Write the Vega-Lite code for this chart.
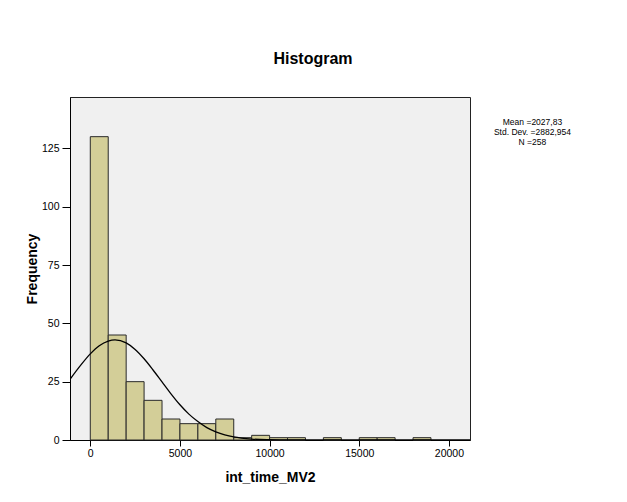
{
  "$schema": "https://vega.github.io/schema/vega-lite/v6.json",
  "width": 400,
  "height": 343,
  "autosize": "none",
  "padding": {"left": 70, "top": 97, "right": 157, "bottom": 62},
  "background": "white",
  "title": {"text": "Histogram", "anchor": "middle", "dx": 43, "offset": 30, "fontSize": 16, "fontWeight": "bold", "font": "Liberation Sans", "color": "black"},
  "config": {
    "view": {"fill": "#F0F0F0", "stroke": "#222222", "strokeWidth": 1},
    "axis": {"grid": false, "domainColor": "black", "tickColor": "black", "labelFont": "Liberation Sans", "labelFontSize": 10.5, "labelColor": "black", "titleFont": "Liberation Sans", "titleFontSize": 14, "titleFontWeight": "bold", "titleColor": "black", "tickSize": 6, "labelPadding": 2}
  },
  "datasets": {
    "bins": [
      {"bin_start": 0, "bin_end": 1000, "count": 130},
      {"bin_start": 1000, "bin_end": 2000, "count": 45},
      {"bin_start": 2000, "bin_end": 3000, "count": 25},
      {"bin_start": 3000, "bin_end": 4000, "count": 17},
      {"bin_start": 4000, "bin_end": 5000, "count": 9},
      {"bin_start": 5000, "bin_end": 6000, "count": 7},
      {"bin_start": 6000, "bin_end": 7000, "count": 7},
      {"bin_start": 7000, "bin_end": 8000, "count": 9},
      {"bin_start": 8000, "bin_end": 9000, "count": 1},
      {"bin_start": 9000, "bin_end": 10000, "count": 2},
      {"bin_start": 10000, "bin_end": 11000, "count": 1},
      {"bin_start": 11000, "bin_end": 12000, "count": 1},
      {"bin_start": 13000, "bin_end": 14000, "count": 1},
      {"bin_start": 15000, "bin_end": 16000, "count": 1},
      {"bin_start": 16000, "bin_end": 17000, "count": 1},
      {"bin_start": 18000, "bin_end": 19000, "count": 1}
    ],
    "curve": [
      {"x": -1132, "y": 26.0},
      {"x": -500, "y": 32.4},
      {"x": 0, "y": 36.9},
      {"x": 500, "y": 40.4},
      {"x": 1000, "y": 42.4},
      {"x": 1378, "y": 42.9},
      {"x": 2000, "y": 41.6},
      {"x": 2500, "y": 38.8},
      {"x": 3000, "y": 34.8},
      {"x": 3500, "y": 30.0},
      {"x": 4000, "y": 24.9},
      {"x": 4500, "y": 19.8},
      {"x": 5000, "y": 15.1},
      {"x": 5500, "y": 11.1},
      {"x": 6000, "y": 7.9},
      {"x": 6500, "y": 5.3},
      {"x": 7000, "y": 3.5},
      {"x": 7500, "y": 2.2},
      {"x": 8000, "y": 1.3},
      {"x": 9000, "y": 0.4},
      {"x": 10000, "y": 0.12},
      {"x": 11000, "y": 0.03},
      {"x": 12000, "y": 0.0},
      {"x": 21177, "y": 0.0}
    ],
    "stats": [
      {"label": "Mean =2027,83\nStd. Dev. =2882,954\nN =258", "x": 24660, "y": 137.8}
    ]
  },
  "layer": [
    {
      "data": {"name": "bins"},
      "mark": {"type": "bar", "fill": "#D3CE98", "stroke": "#2A2A2A", "strokeWidth": 1},
      "encoding": {
        "x": {"field": "bin_start", "type": "quantitative", "scale": {"domain": [-1132, 21177], "nice": false, "zero": false, "padding": 0}, "axis": {"values": [0, 5000, 10000, 15000, 20000], "format": "d", "title": "int_time_MV2", "titlePadding": 12}},
        "x2": {"field": "bin_end"},
        "y": {"field": "count", "type": "quantitative", "scale": {"domain": [0, 147], "nice": false, "padding": 0}, "axis": {"values": [0, 25, 50, 75, 100, 125], "title": "Frequency", "titlePadding": 2, "tickSize": 8, "labelPadding": 3}},
        "y2": {"datum": 0}
      }
    },
    {
      "data": {"name": "curve"},
      "mark": {"type": "line", "color": "black", "strokeWidth": 1.3, "interpolate": "monotone", "clip": true},
      "encoding": {
        "x": {"field": "x", "type": "quantitative"},
        "y": {"field": "y", "type": "quantitative"}
      }
    },
    {
      "data": {"name": "stats"},
      "mark": {"type": "text", "font": "Liberation Sans", "fontSize": 8.5, "lineHeight": 10, "align": "center", "baseline": "top", "color": "black", "lineBreak": "\n", "clip": false},
      "encoding": {
        "x": {"field": "x", "type": "quantitative"},
        "y": {"field": "y", "type": "quantitative"},
        "text": {"field": "label"}
      }
    }
  ]
}
